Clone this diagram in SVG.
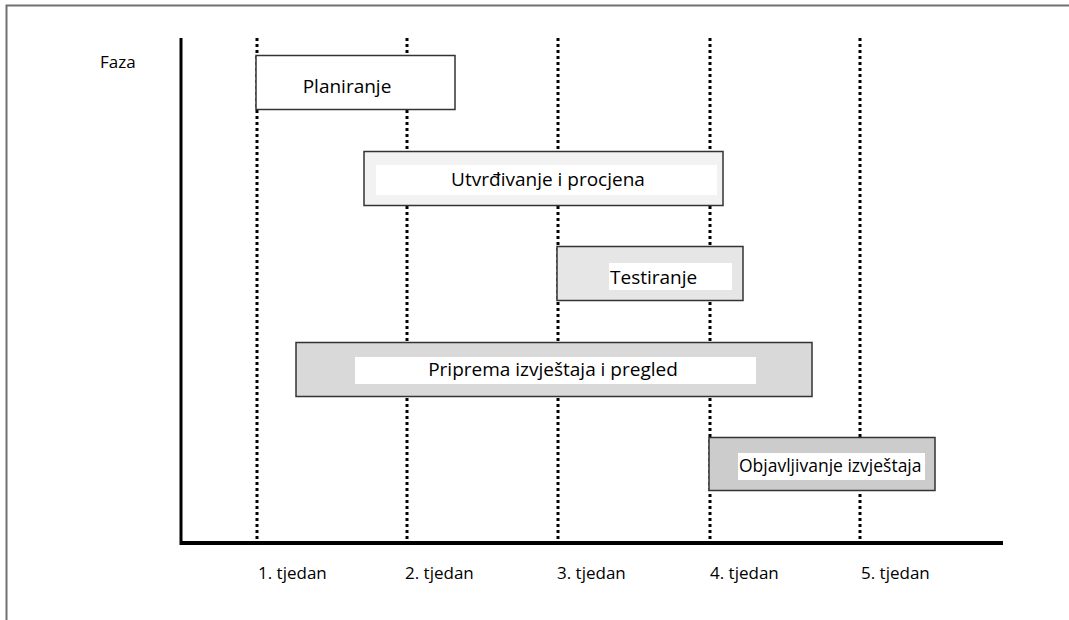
<svg xmlns="http://www.w3.org/2000/svg" width="1069" height="620" viewBox="0 0 1069 620">
<style>
.t{font-family:"Open Sans","Liberation Sans",sans-serif;font-size:19px;fill:#000}
.s{font-size:17px}
.box{stroke:#333;stroke-width:1.5}
.dot{stroke:#000;stroke-width:3;stroke-dasharray:3 3}
</style>
<rect width="1069" height="620" fill="#fff"/>
<path d="M6.5 622 V5.5 H1075" fill="none" stroke="#707070" stroke-width="2"/>
<g id="grid">
<line class="dot" x1="257" y1="38" x2="257" y2="542"/>
<line class="dot" x1="407" y1="38" x2="407" y2="542"/>
<line class="dot" x1="558" y1="38" x2="558" y2="542"/>
<line class="dot" x1="710" y1="38" x2="710" y2="542"/>
<line class="dot" x1="860" y1="38" x2="860" y2="542"/>
</g>
<g id="axes">
<line x1="181" y1="38" x2="181" y2="545" stroke="#000" stroke-width="3"/>
<line x1="180" y1="543" x2="1003" y2="543" stroke="#000" stroke-width="4"/>
</g>
<text class="t s" x="100" y="68">Faza</text>
<g id="labels" class="t s">
<text x="258" y="579">1. tjedan</text>
<text x="405" y="579">2. tjedan</text>
<text x="557" y="579">3. tjedan</text>
<text x="710" y="579">4. tjedan</text>
<text x="861" y="579">5. tjedan</text>
</g>
<g id="planiranje">
<rect class="box" x="256" y="55.5" width="199" height="54" fill="#fff"/>
<text class="t" x="347" y="93" text-anchor="middle">Planiranje</text>
</g>
<g id="utvrdivanje">
<rect class="box" x="364" y="151.5" width="359" height="54" fill="#f2f2f2"/>
<rect x="376" y="165" width="341" height="30" fill="#fff"/>
<text class="t" x="548" y="186" text-anchor="middle">Utvrđivanje i procjena</text>
</g>
<g id="testiranje">
<rect class="box" x="557" y="246.5" width="186" height="54" fill="#e6e6e6"/>
<rect x="609" y="263" width="123" height="27" fill="#fff"/>
<text class="t" x="610" y="284">Testiranje</text>
</g>
<g id="priprema">
<rect class="box" x="296" y="342.5" width="516" height="54" fill="#d9d9d9"/>
<rect x="355" y="357" width="401" height="27" fill="#fff"/>
<text class="t" x="553" y="376" text-anchor="middle">Priprema izvještaja i pregled</text>
</g>
<g id="objavljivanje">
<rect class="box" x="709" y="437.5" width="226" height="53" fill="#cccccc"/>
<rect x="738" y="453" width="187" height="27" fill="#fff"/>
<text class="t" x="739" y="472" style="font-size:17.5px">Objavljivanje izvještaja</text>
</g>
</svg>
